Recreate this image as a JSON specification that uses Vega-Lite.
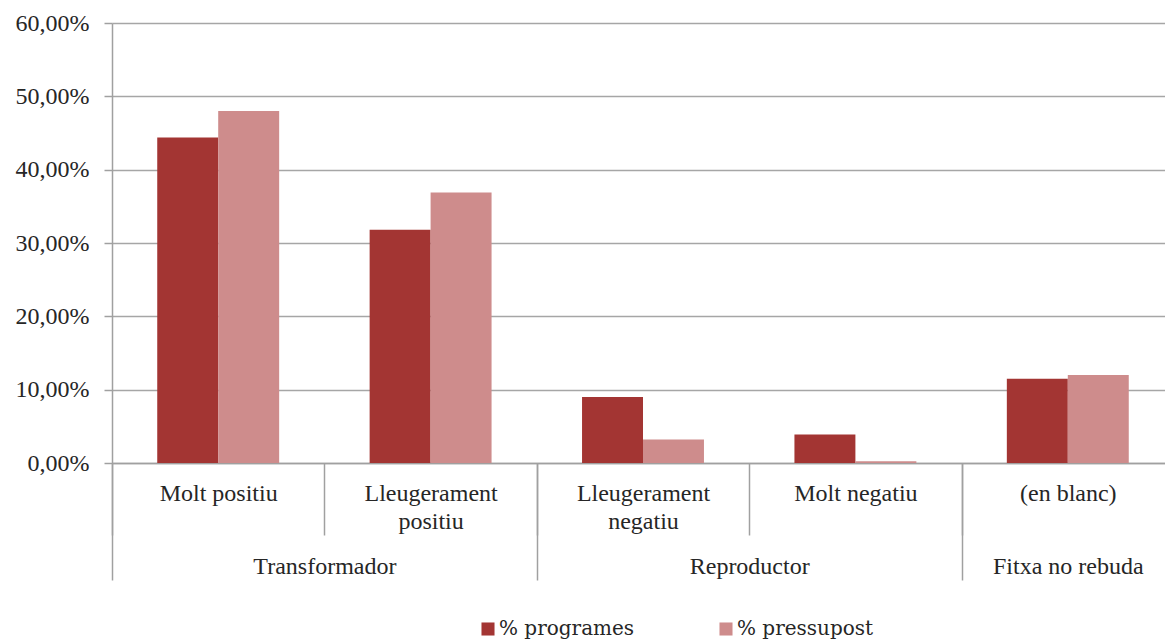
{
  "$schema": "https://vega.github.io/schema/vega-lite/v6.json",
  "width": 1062,
  "height": 440,
  "autosize": {"type": "none"},
  "padding": {"left": 112, "top": 23, "right": -9, "bottom": 176},
  "background": "white",
  "config": {
    "view": {"stroke": null},
    "font": "Liberation Serif",
    "style": {"guide-label": {"font": "Liberation Serif", "fill": "#262626"}},
    "axis": {"labelFont": "Liberation Serif", "labelColor": "#262626", "labelFontSize": 24},
    "legend": {"labelFont": "DejaVu Serif", "labelFontSize": 20, "labelColor": "#262626"}
  },
  "datasets": {
    "barres": [
      {"grup": "Transformador", "valoracio": "Molt positiu", "serie": "% programes", "valor": 0.444},
      {"grup": "Transformador", "valoracio": "Molt positiu", "serie": "% pressupost", "valor": 0.480},
      {"grup": "Transformador", "valoracio": "Lleugerament positiu", "serie": "% programes", "valor": 0.318},
      {"grup": "Transformador", "valoracio": "Lleugerament positiu", "serie": "% pressupost", "valor": 0.369},
      {"grup": "Reproductor", "valoracio": "Lleugerament negatiu", "serie": "% programes", "valor": 0.090},
      {"grup": "Reproductor", "valoracio": "Lleugerament negatiu", "serie": "% pressupost", "valor": 0.032},
      {"grup": "Reproductor", "valoracio": "Molt negatiu", "serie": "% programes", "valor": 0.039},
      {"grup": "Reproductor", "valoracio": "Molt negatiu", "serie": "% pressupost", "valor": 0.0025},
      {"grup": "Fitxa no rebuda", "valoracio": "(en blanc)", "serie": "% programes", "valor": 0.115},
      {"grup": "Fitxa no rebuda", "valoracio": "(en blanc)", "serie": "% pressupost", "valor": 0.120}
    ],
    "grups": [
      {"grup": "Transformador", "inici": 0, "fi": 2},
      {"grup": "Reproductor", "inici": 2, "fi": 4},
      {"grup": "Fitxa no rebuda", "inici": 4, "fi": 5}
    ]
  },
  "layer": [
    {
      "data": {"name": "barres"},
      "mark": {"type": "bar"},
      "encoding": {
        "x": {
          "field": "valoracio",
          "type": "nominal",
          "sort": ["Molt positiu", "Lleugerament positiu", "Lleugerament negatiu", "Molt negatiu", "(en blanc)"],
          "scale": {"paddingInner": 0, "paddingOuter": 0},
          "axis": {
            "orient": "bottom",
            "title": null,
            "labelAngle": 0,
            "domain": true,
            "domainColor": "#A0A0A0",
            "domainWidth": 1.5,
            "ticks": true,
            "tickBand": "extent",
            "tickSize": 72,
            "tickColor": "#A0A0A0",
            "tickWidth": 1.5,
            "labelBaseline": "alphabetic",
            "labelPadding": -35,
            "labelLineHeight": 28,
            "labelOverlap": false,
            "labelBound": false,
            "labelExpr": "indexof(datum.label, 'Lleugerament') == 0 ? split(datum.label, ' ') : datum.label"
          }
        },
        "xOffset": {
          "field": "serie",
          "type": "nominal",
          "sort": ["% programes", "% pressupost"],
          "scale": {"paddingInner": 0, "paddingOuter": 0.742}
        },
        "y": {
          "field": "valor",
          "type": "quantitative",
          "scale": {"domain": [0, 0.6], "nice": false},
          "axis": {
            "title": null,
            "values": [0, 0.1, 0.2, 0.3, 0.4, 0.5, 0.6],
            "labelExpr": "replace(format(datum.value, '.2%'), '.', ',')",
            "grid": true,
            "gridColor": "#A6A6A6",
            "gridWidth": 1.5,
            "domain": true,
            "domainColor": "#A0A0A0",
            "domainWidth": 1.5,
            "tickSize": 8,
            "tickColor": "#A0A0A0",
            "tickWidth": 1.5,
            "labelPadding": 15,
            "labelBaseline": "middle"
          }
        },
        "color": {
          "field": "serie",
          "type": "nominal",
          "scale": {"domain": ["% programes", "% pressupost"], "range": ["#A33533", "#CE8C8C"]},
          "legend": {
            "title": null,
            "orient": "none",
            "legendX": 366,
            "legendY": 596,
            "direction": "horizontal",
            "symbolType": "square",
            "symbolSize": 170,
            "symbolStrokeWidth": 0,
            "labelFont": "DejaVu Serif",
            "labelFontSize": 20,
            "labelColor": "#262626",
            "labelOffset": 1,
            "columnPadding": 81
          }
        }
      }
    },
    {
      "data": {"name": "grups"},
      "mark": {"type": "bar", "opacity": 0},
      "encoding": {
        "x": {
          "field": "inici",
          "type": "quantitative",
          "scale": {"domain": [0, 5], "nice": false, "zero": false},
          "axis": {
            "orient": "bottom",
            "title": null,
            "values": [0, 1, 2, 3, 4, 4.5, 5],
            "grid": false,
            "domain": false,
            "ticks": true,
            "tickSize": 117,
            "tickColor": "#A0A0A0",
            "tickWidth": 1.5,
            "tickOpacity": {"condition": {"test": "datum.value == 1 || datum.value == 3 || datum.value == 4.5", "value": 0}, "value": 1},
            "labelExpr": "datum.value == 1 ? 'Transformador' : datum.value == 3 ? 'Reproductor' : datum.value == 4.5 ? 'Fitxa no rebuda' : ''",
            "labelBaseline": "alphabetic",
            "labelPadding": -7,
            "labelFlush": false,
            "labelOverlap": false,
            "labelBound": false
          }
        },
        "x2": {"field": "fi"}
      }
    }
  ],
  "resolve": {"scale": {"x": "independent", "xOffset": "independent"}, "axis": {"x": "independent"}}
}
